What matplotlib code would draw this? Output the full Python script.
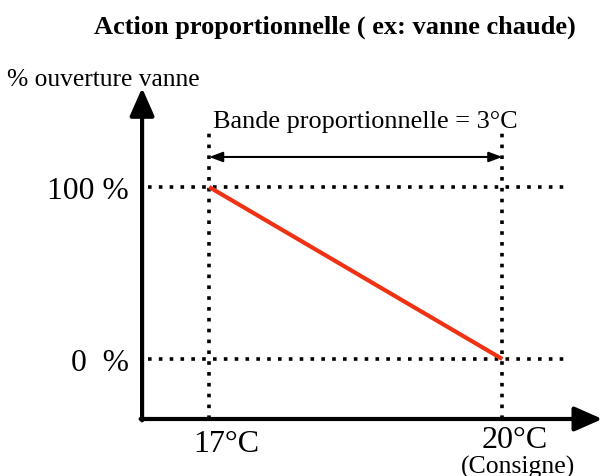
import matplotlib.pyplot as plt

# valeurs du schéma
temp = [17, 20]          # bande proportionnelle
ouverture = [100, 0]     # % ouverture vanne
bande = 3
yticks = [100, 0]
ytick_labels = ['100 %', '0  %']

plt.rcParams['font.family'] = ['Liberation Serif', 'DejaVu Serif']

W, H = 602, 477
fig = plt.figure(figsize=(W / 100, H / 100), dpi=100)
ax = fig.add_axes([0, 0, 1, 1])
ax.set_xlim(14.86, 21.02)
ax.set_ylim(-68.0, 209.3)
ax.axis('off')


def px(x):
    # pixel (depuis la gauche) -> temperature
    return 14.86 + x / 97.67


def py(y):
    # pixel (depuis le haut) -> %
    return -68.0 + (H - y) / 1.72


x0, y0 = px(142), py(420)

# axes avec flèches
head = '-|>,head_length=1.7,head_width=0.75'
ax.annotate('', xy=(px(602), y0), xytext=(x0 - 0.015, y0),
            arrowprops=dict(arrowstyle=head, lw=3, color='k', shrinkA=0, shrinkB=0))
ax.annotate('', xy=(x0, py(89)), xytext=(x0, y0 - 0.8),
            arrowprops=dict(arrowstyle=head, lw=3, color='k', shrinkA=0, shrinkB=0))

dots = dict(color='k', lw=2.6, linestyle=(0, (1, 2)))
for v in yticks:
    ax.plot([px(148), px(567)], [v, v], **dots)
for t in temp:
    ax.plot([t, t], [y0, py(130)], **dots)

# droite de la bande
ax.plot(temp, ouverture, color='#f03214', lw=3, solid_capstyle='butt')

# flèche double de la bande
yb = py(158)
ax.annotate('', xy=(temp[0], yb), xytext=(temp[1], yb),
            arrowprops=dict(arrowstyle='<|-|>,head_length=0.8,head_width=0.3', lw=1.5, color='k',
                            shrinkA=0, shrinkB=0))
ax.text(px(213), py(122), f'Bande proportionnelle = {bande}°C', fontsize=18.9,
        ha='left', va='center')

for v, lab in zip(yticks, ytick_labels):
    ax.text(px(129), v - 2, lab, fontsize=22.8, ha='right', va='center')

ax.text(px(226), py(445), f'{temp[0]}°C', fontsize=23, ha='center', va='center')
ax.text(px(514), py(441), f'{temp[1]}°C', fontsize=23, ha='center', va='center')
ax.text(px(518), py(467), '(Consigne)', fontsize=18.5, ha='center', va='center')

ax.text(px(7), py(80), '% ouverture vanne', fontsize=18.4, ha='left', va='center')
fig.text(335 / W, 1 - 27 / H, 'Action proportionnelle ( ex: vanne chaude)', fontsize=19,
         fontweight='bold', ha='center', va='center')

fig.savefig('out.png', dpi=100)
